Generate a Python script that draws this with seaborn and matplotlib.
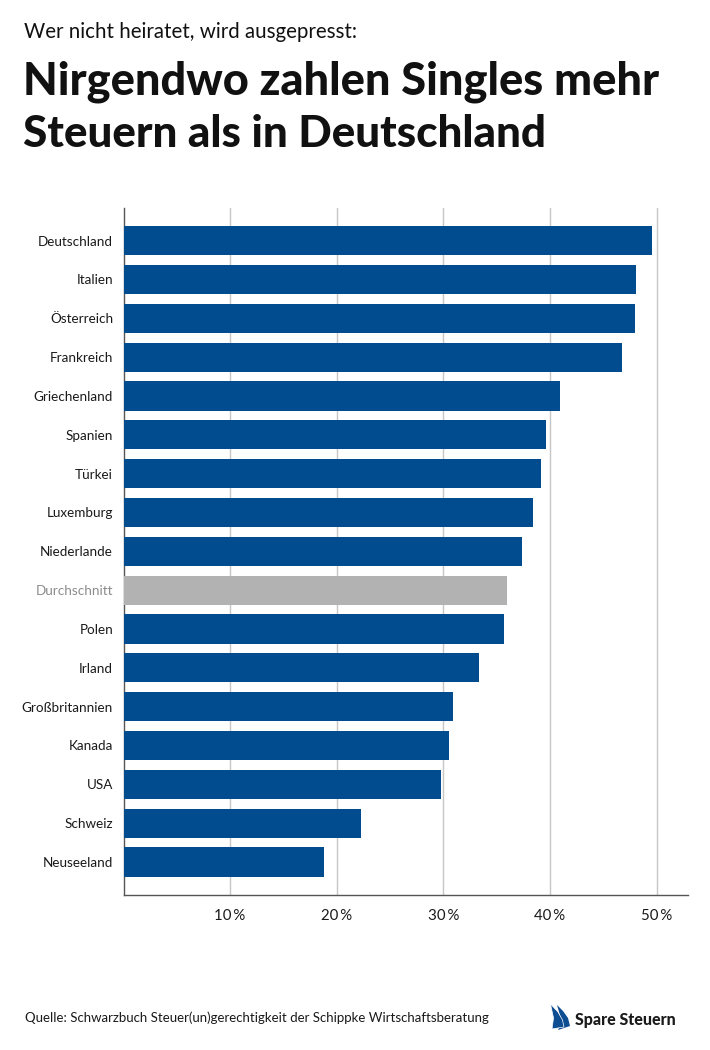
import matplotlib
matplotlib.use('Agg')
import matplotlib.pyplot as plt
from matplotlib.patches import Polygon
import pandas as pd
import seaborn as sns

countries = ['Deutschland', 'Italien', 'Österreich', 'Frankreich', 'Griechenland', 'Spanien', 'Türkei',
             'Luxemburg', 'Niederlande', 'Durchschnitt', 'Polen', 'Irland', 'Großbritannien', 'Kanada',
             'USA', 'Schweiz', 'Neuseeland']
values = [49.6, 48.1, 48.0, 46.8, 40.9, 39.6, 39.2, 38.4, 37.4, 36.0, 35.7, 33.3, 30.9, 30.5, 29.8, 22.3, 18.8]
ticks = [10, 20, 30, 40, 50]

BLUE = '#004c8f'
GREY = '#b2b2b2'

sns.set_theme(style='white')
plt.rcParams['font.family'] = ['Lato', 'DejaVu Sans']

W, H = 710, 1050
fig = plt.figure(figsize=(W / 100, H / 100), dpi=100)
fig.patch.set_facecolor('white')

# axes box in pixels of the original
ax = fig.add_axes([123.5 / W, 1 - 895 / H, (688 - 123.5) / W, (895 - 208) / H])

data = pd.DataFrame({'Land': countries, 'Wert': values})
colors = [GREY if c == 'Durchschnitt' else BLUE for c in countries]
sns.barplot(data=data, x='Wert', y='Land', hue='Land', palette=colors, legend=False,
            width=0.75, saturation=1, linewidth=0, ax=ax, zorder=3)

ax.set_xlim(0, 52.95)
ax.set_ylim(16.85, -0.84)
ax.set_xlabel('')
ax.set_ylabel('')
ax.set_xticks(ticks)
ax.set_xticklabels([f'{t}\u2009%' for t in ticks], fontsize=10.8, color='#1a1a1a')
ax.tick_params(axis='x', length=0, pad=10)
ax.tick_params(axis='y', length=0, pad=7.5, labelsize=9.7)
for lab, c in zip(ax.get_yticklabels(), countries):
    lab.set_color('#8c8c8c' if c == 'Durchschnitt' else '#1a1a1a')

ax.xaxis.grid(True, color='#c6c6c6', linewidth=1.0, zorder=0)
ax.yaxis.grid(False)
ax.set_axisbelow(True)
sns.despine(ax=ax, top=True, right=True)
for s in ['left', 'bottom']:
    ax.spines[s].set_color('#555555')
    ax.spines[s].set_linewidth(1.0)

# heading
fig.text(24 / W, 1 - 32 / H, 'Wer nicht heiratet, wird ausgepresst:', fontsize=14.8, color='#111111', va='center')
fig.text(23 / W, 1 - 82 / H, 'Nirgendwo zahlen Singles mehr', fontsize=32.5, fontweight='black', color='#111111', va='center')
fig.text(23 / W, 1 - 134.5 / H, 'Steuern als in Deutschland', fontsize=31.7, fontweight='black', color='#111111', va='center')

# footer
fig.text(25 / W, 1 - 1018 / H, 'Quelle: Schwarzbuch Steuer(un)gerechtigkeit der Schippke Wirtschaftsberatung',
         fontsize=9.52, color='#1a1a1a', va='center')
fig.text(575 / W, 1 - 1020 / H, 'Spare Steuern', fontsize=11.5, fontweight='black', color='#1a1a1a', va='center')

# logo sails
def px(points):
    return [(x / W, 1 - y / H) for x, y in points]

fig.add_artist(Polygon(px([(557, 1005), (563, 1011), (568, 1018), (570, 1026), (558, 1030), (562, 1022)]),
                       closed=True, facecolor='#0f4d92', edgecolor='none', transform=fig.transFigure))
fig.add_artist(Polygon(px([(550.5, 1004), (558, 1012), (562.5, 1020), (564, 1027), (552, 1029), (553.5, 1018)]),
                       closed=True, facecolor='#0f4d92', edgecolor='white', linewidth=0.5, transform=fig.transFigure))

fig.savefig('out.png', dpi=100)
